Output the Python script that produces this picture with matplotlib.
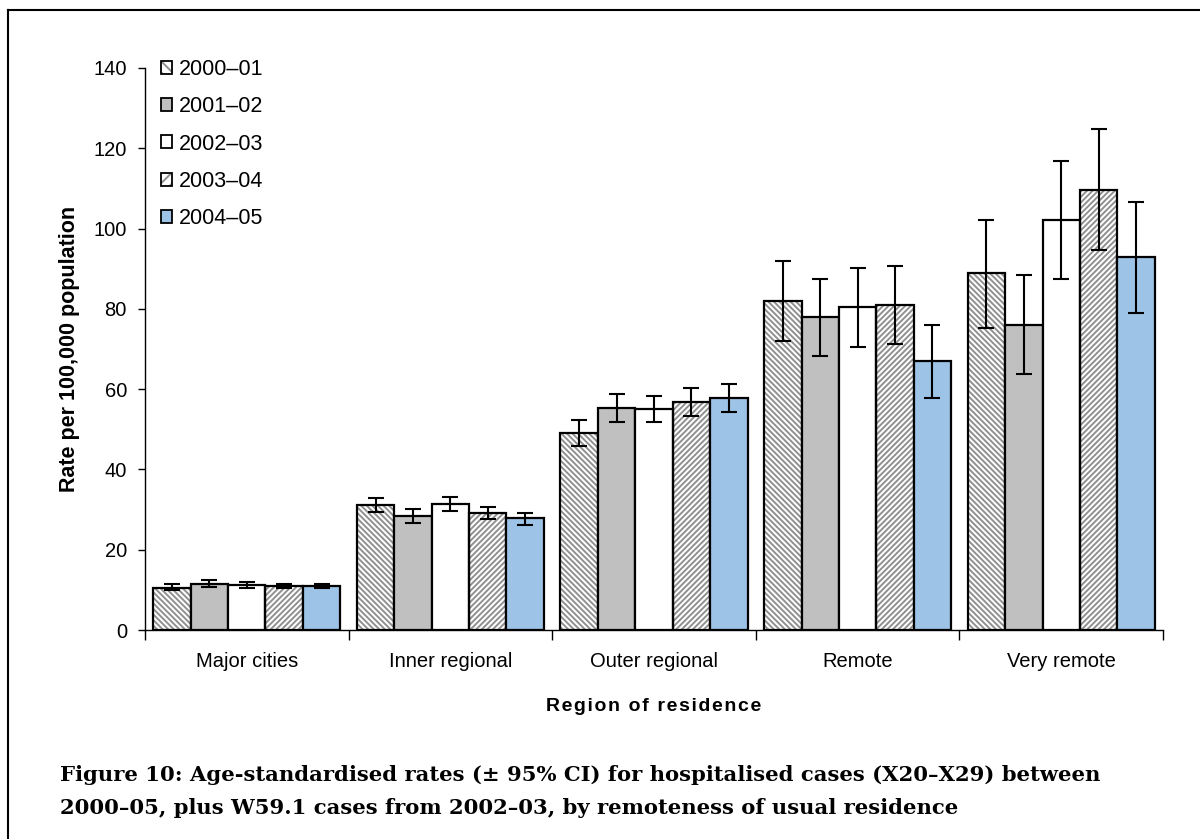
import numpy as np
import matplotlib
matplotlib.use("Agg")
from matplotlib import pyplot as plt
from matplotlib.patches import Patch
from matplotlib.lines import Line2D

regions = ['Major cities', 'Inner regional', 'Outer regional', 'Remote', 'Very remote']
years = ['2000\u201301', '2001\u201302', '2002\u201303', '2003\u201304', '2004\u201305']

rates = {
    '2000\u201301': [10.6, 31.2, 49.0, 82.0, 88.9],
    '2001\u201302': [11.6, 28.3, 55.4, 78.0, 76.1],
    '2002\u201303': [11.2, 31.3, 55.0, 80.5, 102.1],
    '2003\u201304': [11.1, 29.2, 56.9, 81.0, 109.6],
    '2004\u201305': [11.1, 27.8, 57.8, 67.1, 92.8],
}
lower = {
    '2000\u201301': [9.9, 29.3, 45.9, 72.0, 75.2],
    '2001\u201302': [10.7, 26.7, 51.8, 68.2, 63.8],
    '2002\u201303': [10.5, 29.6, 51.8, 70.6, 87.4],
    '2003\u201304': [10.6, 27.7, 53.4, 71.2, 94.6],
    '2004\u201305': [10.6, 26.2, 54.3, 57.8, 78.9],
}
upper = {
    '2000\u201301': [11.5, 32.9, 52.4, 91.9, 102.1],
    '2001\u201302': [12.4, 30.2, 58.9, 87.4, 88.4],
    '2002\u201303': [12.0, 33.1, 58.4, 90.3, 116.8],
    '2003\u201304': [11.6, 30.7, 60.4, 90.8, 124.9],
    '2004\u201305': [11.6, 29.2, 61.4, 76.0, 106.5],
}

colors = ['white', '#c0c0c0', 'white', 'white', '#9dc3e6']
hatches = ['\\' * 6, None, None, '/' * 6, None]
hatch_gray = '#909090'

plt.rcParams['font.family'] = ['Liberation Sans', 'DejaVu Sans']
plt.rcParams['hatch.linewidth'] = 1.4

fig = plt.figure(figsize=(12, 8.39), dpi=100)
ax = fig.add_axes([0.1208, 0.249, 0.8484, 0.67])

x = np.arange(len(regions))
w = 0.1837
for i, yr in enumerate(years):
    pos = x + (i - 2) * w
    vals = np.array(rates[yr])
    if hatches[i]:
        ax.bar(pos, vals, w, color='white', edgecolor=hatch_gray, hatch=hatches[i], linewidth=0, zorder=2)
        ax.bar(pos, vals, w, fill=False, edgecolor='black', linewidth=1.6, zorder=3)
    else:
        ax.bar(pos, vals, w, color=colors[i], edgecolor='black', linewidth=1.6, zorder=3)
    err = [vals - np.array(lower[yr]), np.array(upper[yr]) - vals]
    ax.errorbar(pos, vals, yerr=err, fmt='none', ecolor='black', elinewidth=1.5,
                capsize=5.5, capthick=1.5, zorder=4)

ax.set_xlim(-0.5, 4.5)
ax.set_ylim(0, 140)
ax.set_yticks(range(0, 141, 20))
ax.set_xticks(x)
ax.set_xticklabels(regions, fontsize=14.5)
ax.set_xticks(np.arange(-0.5, 5, 1), minor=True)
ax.tick_params(axis='x', which='major', length=0, pad=16)
ax.tick_params(axis='x', which='minor', length=7, width=1, direction='out')
ax.tick_params(axis='y', labelsize=14.5, length=5, width=1, direction='out', pad=8)
for s in ['top', 'right']:
    ax.spines[s].set_visible(False)
for s in ['left', 'bottom']:
    ax.spines[s].set_linewidth(1.0)

ax.set_ylabel('Rate per 100,000 population', fontsize=15.5, fontweight='bold', labelpad=10)
ax.set_xlabel('\u200a'.join('Region of residence'), fontsize=14, fontweight='bold', labelpad=19)

handles = []
for i, yr in enumerate(years):
    if hatches[i]:
        h = (Patch(facecolor='white', edgecolor=hatch_gray, linewidth=0, hatch=hatches[i][:3]),
             Patch(fill=False, edgecolor='black', linewidth=1.3))
    else:
        h = Patch(facecolor=colors[i], edgecolor='black', linewidth=1.3)
    handles.append(h)
leg = ax.legend(handles, years, loc='upper left', bbox_to_anchor=(0.0005, 1.043), frameon=False,
                fontsize=15.5, handlelength=0.55, handleheight=0.55, handletextpad=0.3,
                labelspacing=0.76, borderaxespad=0.3)

cap_font = ['DejaVu Serif']
fig.text(0.05, 1 - 781 / 839, 'Figure 10: Age-standardised rates (\u00b1 95% CI) for hospitalised cases (X20\u2013X29) between',
         fontsize=15.2, fontweight='bold', family=cap_font, va='baseline')
fig.text(0.05, 1 - 814 / 839, '2000\u201305, plus W59.1 cases from 2002\u201303, by remoteness of usual residence',
         fontsize=15.2, fontweight='bold', family=cap_font, va='baseline')

fig.add_artist(Line2D([0.007, 0.007], [0.0, 0.988], transform=fig.transFigure, color='black', linewidth=1.5))
fig.add_artist(Line2D([0.007, 1.0], [0.988, 0.988], transform=fig.transFigure, color='black', linewidth=1.5))

fig.savefig('out.png', dpi=100)
